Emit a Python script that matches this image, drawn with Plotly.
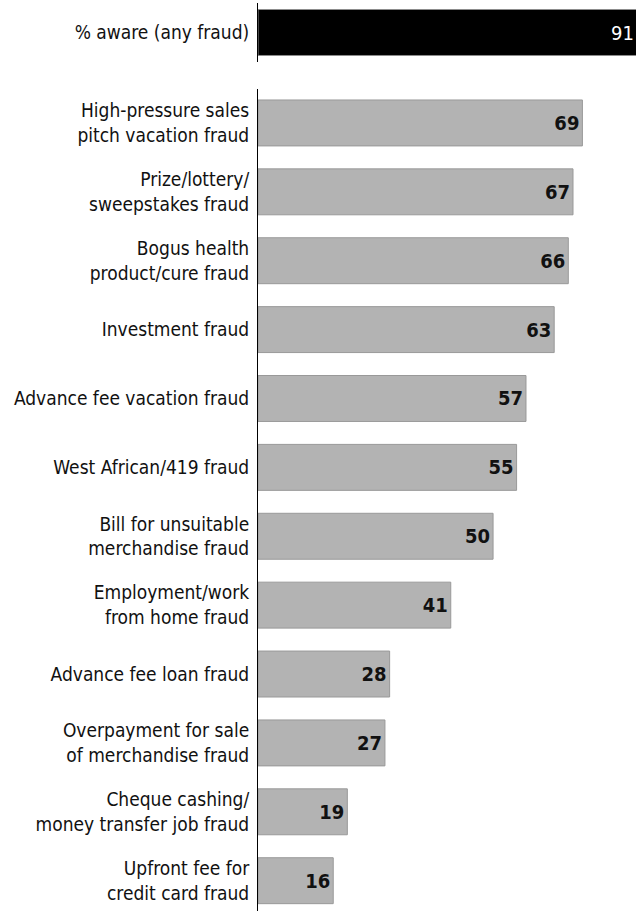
import plotly.graph_objects as go
from plotly.subplots import make_subplots

# Overall awareness
total_label = ["% aware (any fraud)"]
total_value = [91]

# Awareness by fraud type
categories = [
    "High-pressure sales<br>pitch vacation fraud",
    "Prize/lottery/<br>sweepstakes fraud",
    "Bogus health<br>product/cure fraud",
    "Investment fraud",
    "Advance fee vacation fraud",
    "West African/419 fraud",
    "Bill for unsuitable<br>merchandise fraud",
    "Employment/work<br>from home fraud",
    "Advance fee loan fraud",
    "Overpayment for sale<br>of merchandise fraud",
    "Cheque cashing/<br>money transfer job fraud",
    "Upfront fee for<br>credit card fraud",
]
values = [69, 67, 66, 63, 57, 55, 50, 41, 28, 27, 19, 16]

W, H = 636, 911
FONT = "DejaVu Sans Condensed, Liberation Sans, sans-serif"
X_MAX = 80.4

fig = make_subplots(rows=2, cols=1, vertical_spacing=0)

fig.add_trace(go.Bar(
    y=total_label, x=total_value, orientation="h",
    marker=dict(color="#000000", line=dict(color="#8c8c8c", width=1)),
    showlegend=False, hoverinfo="x+y",
), row=1, col=1)

# The overall bar runs past the visible range, so its value sits at the right edge
fig.add_annotation(
    x=X_MAX, y=total_label[0], xref="x", yref="y",
    text=str(total_value[0]), showarrow=False, xanchor="right", xshift=0,
    font=dict(color="white", size=20, family=FONT),
)

fig.add_trace(go.Bar(
    y=categories, x=values, orientation="h",
    marker=dict(color="#b3b3b3", line=dict(color="#999999", width=1)),
    text=values, textposition="inside", insidetextanchor="end",
    textfont=dict(color="#111111", size=20, family=FONT, weight="bold"),
    showlegend=False,
), row=2, col=1)

fig.update_xaxes(showgrid=False, zeroline=False, showticklabels=False,
                 range=[0, X_MAX], fixedrange=True)

fig.update_yaxes(showgrid=False, zeroline=False, showline=True, linecolor="#000000",
                 linewidth=1, ticks="", ticklabelstandoff=4, fixedrange=True,
                 tickfont=dict(size=19, family=FONT, color="#111111"))
fig.update_yaxes(range=[0.428, -0.428], domain=[1 - 62 / H, 1 - 3 / H], row=1, col=1)
fig.update_yaxes(range=[11.44, -0.5], domain=[0, 1 - 88.5 / H], row=2, col=1)

fig.update_layout(
    width=W, height=H,
    margin=dict(l=258, r=0, t=0, b=0),
    bargap=0.333,
    plot_bgcolor="white", paper_bgcolor="white",
    uniformtext=dict(minsize=20, mode="show"),
)

fig.write_html("out.html")
